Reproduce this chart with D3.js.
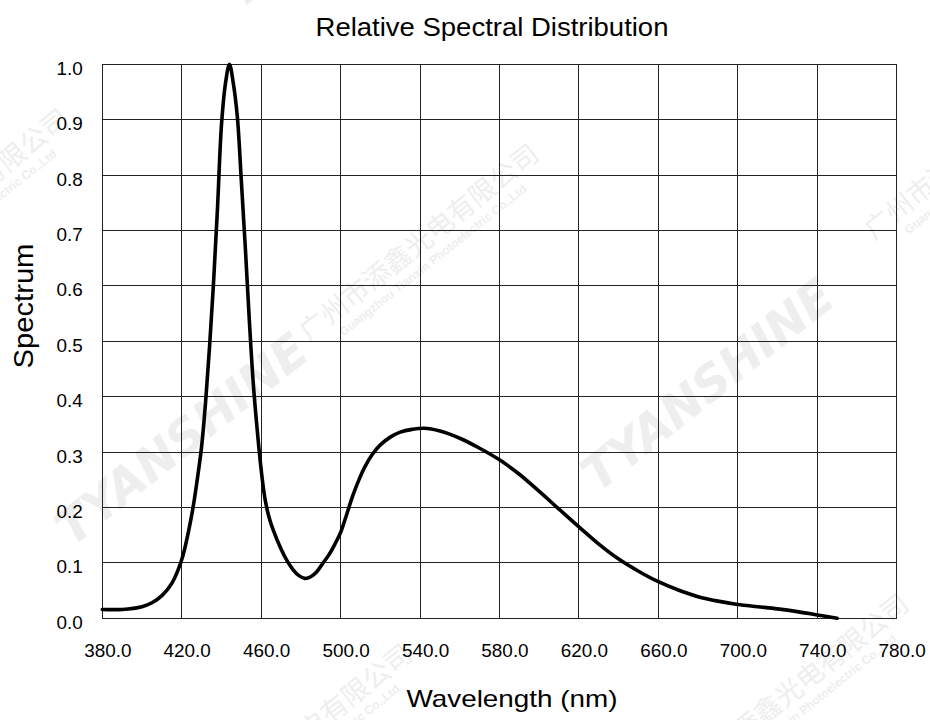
<!DOCTYPE html>
<html>
<head>
<meta charset="utf-8">
<script src="https://cdn.jsdelivr.net/npm/d3@7"></script>
<style>
  html, body { margin: 0; padding: 0; background: #fff; }
  svg { display: block; font-family: "Liberation Sans", Arial, sans-serif; }
</style>
</head>
<body>
<svg id="chart" width="930" height="720"></svg>
<script>
// ---- data ----
const wavelength = [380, 390, 400, 405, 410, 415, 420, 425, 428, 430, 432, 434, 436, 438, 440, 442, 444, 446, 448, 450, 452, 454, 456, 458, 460, 462, 464, 466, 470, 473, 476, 479, 482, 485, 488, 491, 494, 497, 500, 503, 506, 509, 512, 516, 520, 525, 530, 536, 542, 550, 560, 570, 580, 590, 600, 610, 620, 630, 640, 650, 660, 670, 680, 690, 700, 710, 720, 730, 740, 750];
const spectrum   = [0.016, 0.016, 0.021, 0.028, 0.041, 0.063, 0.106, 0.186, 0.255, 0.310, 0.390, 0.490, 0.605, 0.740, 0.890, 0.965, 1.000, 0.965, 0.905, 0.790, 0.670, 0.540, 0.425, 0.340, 0.268, 0.214, 0.182, 0.160, 0.125, 0.104, 0.088, 0.077, 0.072, 0.075, 0.084, 0.099, 0.114, 0.133, 0.155, 0.187, 0.220, 0.248, 0.272, 0.296, 0.313, 0.327, 0.336, 0.341, 0.343, 0.338, 0.325, 0.307, 0.286, 0.260, 0.229, 0.197, 0.165, 0.134, 0.107, 0.085, 0.066, 0.051, 0.039, 0.031, 0.025, 0.021, 0.017, 0.012, 0.006, 0.000];
const xTicks = [380, 420, 460, 500, 540, 580, 620, 660, 700, 740, 780];
const yTicks = [0.0, 0.1, 0.2, 0.3, 0.4, 0.5, 0.6, 0.7, 0.8, 0.9, 1.0];
const titleText = "Relative Spectral Distribution";
const xLabel = "Wavelength (nm)";
const yLabel = "Spectrum";

// ---- layout ----
const svg = d3.select("#chart");
const L = 102.3, R = 896.7, T = 64.3, B = 618.3;
const x = d3.scaleLinear().domain([380, 780]).range([L, R]);
const y = d3.scaleLinear().domain([0, 1]).range([B, T]);

// ---- watermarks ----
const wm = svg.append("g").attr("fill", "#eeeeee").attr("pointer-events", "none");
function brand(cx, cy) {
  wm.append("text").attr("transform", `translate(${cx},${cy}) rotate(-38.5)`)
    .attr("text-anchor", "middle").attr("font-size", 48).attr("font-weight", "bold")
    .attr("font-style", "italic").attr("font-family", "DejaVu Sans, sans-serif")
    .text("TYANSHINE");
}
function company(cx, cy) {
  const g = wm.append("g").attr("transform", `translate(${cx},${cy}) rotate(-38.5)`);
  g.append("text").attr("text-anchor", "middle").attr("font-size", 27)
    .attr("font-family", "Noto Sans CJK SC, sans-serif").text("广州市添鑫光电有限公司");
  g.append("text").attr("text-anchor", "middle").attr("y", 17).attr("font-size", 12)
    .attr("font-weight", "bold").text("Guangzhou Tianxin Photoelectric Co.,Ltd");
}
brand(192, 452);
brand(718, 398);
company(425, 250);
company(-45, 215);
company(990, 148);
company(298, 750);
company(795, 700);
wm.append("text").attr("transform", "translate(240,10) rotate(-38.5)")
  .attr("font-size", 48).attr("font-weight", "bold").attr("font-style", "italic")
  .attr("font-family", "DejaVu Sans, sans-serif").text("T");

// ---- grid ----
const grid = svg.append("g").attr("stroke", "#222").attr("stroke-width", 1.1).attr("shape-rendering", "crispEdges");
grid.selectAll("line.v").data(xTicks).join("line").attr("class", "v")
  .attr("x1", d => x(d)).attr("x2", d => x(d)).attr("y1", T).attr("y2", B);
grid.selectAll("line.h").data(yTicks).join("line").attr("class", "h")
  .attr("x1", L).attr("x2", R).attr("y1", d => y(d)).attr("y2", d => y(d));

// ---- axes (labels only) ----
const xAxis = svg.append("g").attr("transform", `translate(5,${B})`)
  .call(d3.axisBottom(x).tickValues(xTicks).tickFormat(d3.format(".1f")).tickSize(0).tickPadding(0));
xAxis.select(".domain").remove();
xAxis.selectAll("text").attr("font-size", 17.5).attr("fill", "#000")
  .attr("font-family", "Liberation Sans, Arial, sans-serif")
  .attr("dy", null).attr("y", 39).attr("transform", "scale(1.08,1)");

const yAxis = svg.append("g").attr("transform", `translate(${L},10)`)
  .call(d3.axisLeft(y).tickValues(yTicks).tickFormat(d3.format(".1f")).tickSize(0).tickPadding(0));
yAxis.select(".domain").remove();
yAxis.selectAll("text").attr("font-size", 17.5).attr("fill", "#000")
  .attr("font-family", "Liberation Sans, Arial, sans-serif")
  .attr("dy", null).attr("x", -18).attr("transform", "scale(1.08,1)");

// ---- curve ----
const pts = wavelength.map((w, i) => [w, spectrum[i]]);
svg.append("path").datum(pts)
  .attr("fill", "none").attr("stroke", "#000").attr("stroke-width", 3.6)
  .attr("stroke-linejoin", "round").attr("stroke-linecap", "round")
  .attr("d", d3.line().x(d => x(d[0])).y(d => y(d[1])).curve(d3.curveCatmullRom.alpha(0.5)));

// ---- titles ----
svg.append("text").attr("transform", "translate(492,36) scale(1.1,1)").attr("text-anchor", "middle")
  .attr("font-size", 25).attr("fill", "#000").text(titleText);
svg.append("text").attr("transform", "translate(512,707) scale(1.16,1)").attr("text-anchor", "middle")
  .attr("font-size", 24).attr("fill", "#000").text(xLabel);
svg.append("text").attr("transform", "translate(33,306) rotate(-90) scale(1.08,1)").attr("text-anchor", "middle")
  .attr("font-size", 27).attr("fill", "#000").text(yLabel);
</script>
</body>
</html>
